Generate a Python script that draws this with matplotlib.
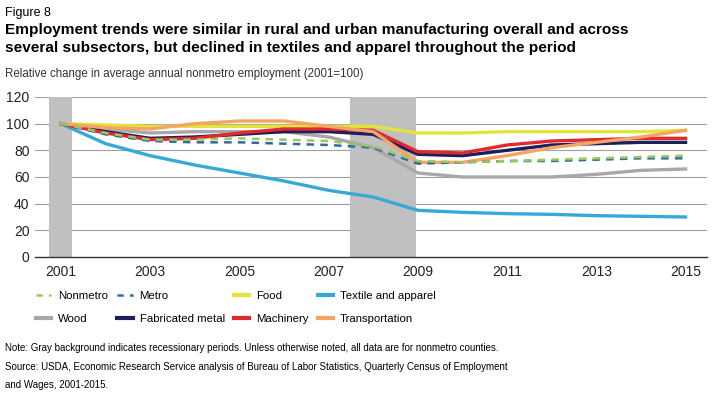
import matplotlib
matplotlib.use("Agg")
import matplotlib.pyplot as plt
from matplotlib.lines import Line2D

plt.rcParams["font.family"] = ["Liberation Sans", "DejaVu Sans"]

years = list(range(2001, 2016))
nonmetro = [100, 93, 88, 88, 89, 88, 87, 83, 72, 71, 72, 73, 74, 75, 76]
metro = [100, 92, 87, 86, 86, 85, 84, 82, 70, 71, 72, 72, 73, 74, 74]
food = [100, 99, 98, 98, 98, 98, 98, 98, 93, 93, 94, 94, 94, 94, 95]
textile = [100, 85, 76, 69, 63, 57, 50, 45, 35, 33.5, 32.5, 32, 31, 30.5, 30]
wood = [100, 96, 93, 94, 94, 94, 90, 82, 63, 60, 60, 60, 62, 65, 66]
fab_metal = [100, 94, 89, 90, 92, 94, 94, 92, 77, 76, 80, 84, 85, 86, 86]
machinery = [100, 93, 88, 89, 93, 96, 96, 95, 79, 78, 84, 87, 88, 89, 89]
transport = [100, 97, 96, 100, 102, 102, 98, 94, 71, 71, 76, 82, 86, 90, 95]

recessions = [(2000.73, 2001.25), (2007.48, 2008.95)]
xticks = [2001, 2003, 2005, 2007, 2009, 2011, 2013, 2015]
yticks = [0, 20, 40, 60, 80, 100, 120]

fig = plt.figure(figsize=(7.2, 3.93), dpi=100)
ax = fig.add_axes([35/720, 1-257/393, 672/720, 160/393])

for a, b in recessions:
    ax.axvspan(a, b, color="#c0c0c0", lw=0, zorder=1)

for y in yticks[1:]:
    ax.axhline(y, color="#a0a0a0", lw=0.8, zorder=0.5)

series = [
    ("Nonmetro", nonmetro, "#9cc85a", "--", 1.8),
    ("Metro", metro, "#2f6aa0", "--", 1.8),
    ("Food", food, "#e2e43c", "-", 2.4),
    ("Textile and apparel", textile, "#38a8d8", "-", 2.4),
    ("Wood", wood, "#a8a8a8", "-", 2.4),
    ("Fabricated metal", fab_metal, "#1e1e5a", "-", 2.4),
    ("Machinery", machinery, "#e02a2e", "-", 2.4),
    ("Transportation", transport, "#f2a564", "-", 2.4),
]
draw_order = ["Wood", "Textile and apparel", "Food", "Fabricated metal", "Machinery",
              "Transportation", "Metro", "Nonmetro"]
lookup = {s[0]: s for s in series}
for z, name in enumerate(draw_order):
    n, vals, c, ls, lw = lookup[name]
    ax.plot(years, vals, color=c, ls=ls, lw=lw, zorder=3+z,
            dashes=(3, 2.5) if ls == "--" else (None, None))

ax.set_xlim(2000.42, 2015.48)
ax.set_ylim(0, 120)
ax.set_xticks(xticks)
ax.set_yticks(yticks)
ax.tick_params(length=0, labelsize=10, colors="#222222", pad=4)
ax.tick_params(axis="x", pad=6)
for s in ["left", "right", "top"]:
    ax.spines[s].set_visible(False)
ax.spines["bottom"].set_color("#333333")
ax.spines["bottom"].set_linewidth(1.0)

# legend
handles = {}
for n, vals, c, ls, lw in series:
    if ls == "--":
        handles[n] = Line2D([], [], color=c, lw=1.8, ls="--", dashes=(2.5, 2.5))
    else:
        handles[n] = Line2D([], [], color=c, lw=3)
order = ["Nonmetro", "Wood", "Metro", "Fabricated metal", "Food", "Machinery",
         "Textile and apparel", "Transportation"]
fig.legend([handles[o] for o in order], order, ncol=4, loc="upper left",
           bbox_to_anchor=(36/720, 1-291/393), frameon=False, fontsize=8.2,
           handlelength=1.35, handletextpad=0.6, columnspacing=0.8,
           labelspacing=1.15, borderaxespad=0, borderpad=0)

fig.text(5/720, 1-13/393, "Figure 8", fontsize=9, va="center", ha="left")
fig.text(5/720, 1-30/393,
         "Employment trends were similar in rural and urban manufacturing overall and across",
         fontsize=11.1, fontweight="bold", va="center", ha="left")
fig.text(5/720, 1-48/393,
         "several subsectors, but declined in textiles and apparel throughout the period",
         fontsize=11.1, fontweight="bold", va="center", ha="left")
fig.text(5/720, 1-74/393, "Relative change in average annual nonmetro employment (2001=100)",
         fontsize=8.3, va="center", ha="left", color="#333333")
fig.text(5/720, 1-348/393,
         "Note: Gray background indicates recessionary periods. Unless otherwise noted, all data are for nonmetro counties.",
         fontsize=7.05, va="center", ha="left")
fig.text(5/720, 1-367/393,
         "Source: USDA, Economic Research Service analysis of Bureau of Labor Statistics, Quarterly Census of Employment",
         fontsize=7.05, va="center", ha="left")
fig.text(5/720, 1-385/393, "and Wages, 2001-2015.",
         fontsize=7.05, va="center", ha="left")

fig.savefig("out.png", dpi=100)
